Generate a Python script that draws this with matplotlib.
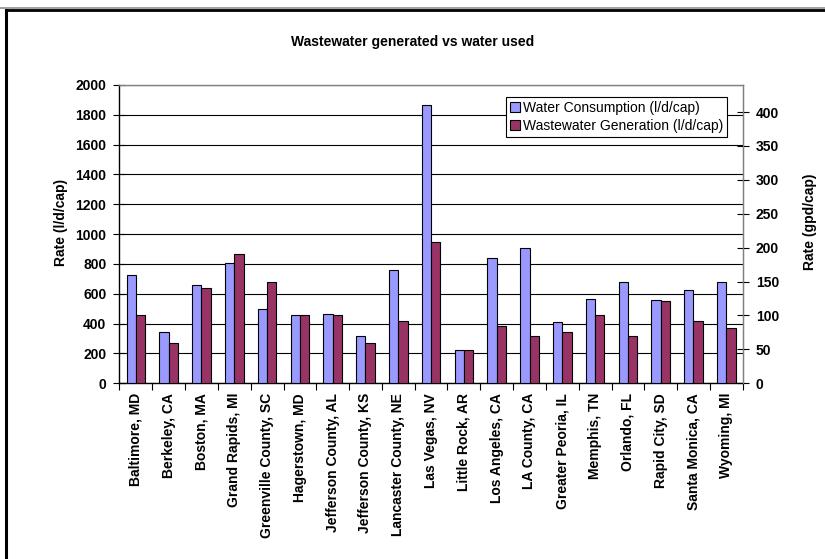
import matplotlib
matplotlib.use("Agg")
import matplotlib.pyplot as plt
import numpy as np
from matplotlib.lines import Line2D

plt.rcParams["font.family"] = ["Liberation Sans", "DejaVu Sans"]

cities = ["Baltimore, MD", "Berkeley, CA", "Boston, MA", "Grand Rapids, MI",
          "Greenville County, SC", "Hagerstown, MD", "Jefferson County, AL",
          "Jefferson County, KS", "Lancaster County, NE", "Las Vegas, NV",
          "Little Rock, AR", "Los Angeles, CA", "LA County, CA",
          "Greater Peoria, IL", "Memphis, TN", "Orlando, FL",
          "Rapid City, SD", "Santa Monica, CA", "Wyoming, MI"]
# litres per day per capita
water = [726, 342, 657, 809, 500, 455, 463, 315, 758, 1866,
         223, 840, 909, 409, 567, 681, 556, 624, 681]
waste = [455, 273, 637, 867, 681, 455, 455, 273, 416, 949,
         223, 384, 317, 342, 455, 317, 552, 418, 373]
L_PER_GAL = 4.546  # imperial gallon

BLUE, MAROON = "#9999FF", "#993366"
W, H = 825, 559

fig = plt.figure(figsize=(W / 100, H / 100), dpi=100)
fig.patch.set_facecolor("white")

ax = fig.add_axes([119.5 / W, 1 - 383.3 / H, (742.7 - 119.5) / W, (383.3 - 85) / H])
x = np.arange(len(cities))
bw = 1 / 3.5
b1 = ax.bar(x - bw / 2, water, bw, color=BLUE, edgecolor="black", lw=0.8,
            label="Water Consumption (l/d/cap)", zorder=3)
b2 = ax.bar(x + bw / 2, waste, bw, color=MAROON, edgecolor="black", lw=0.8,
            label="Wastewater Generation (l/d/cap)", zorder=3)

ax.set_xlim(-0.5, len(cities) - 0.5)
ax.set_ylim(0, 2000)
ax.set_yticks(np.arange(0, 2001, 200))
ax.yaxis.grid(True, color="black", lw=0.8)
ax.set_axisbelow(True)

ax.set_xticks(x)
ax.set_xticklabels(cities, rotation=90, fontweight="bold", fontsize=10)
ax.set_xticks(np.arange(-0.5, len(cities), 1), minor=True)
ax.tick_params(axis="x", which="major", length=0, pad=7)
ax.tick_params(axis="x", which="minor", length=5, direction="out", width=0.8)
ax.tick_params(axis="y", direction="inout", length=9, width=0.8, pad=5,
               labelsize=10)
for lab in ax.get_yticklabels():
    lab.set_fontweight("bold")

for s in ("left", "bottom"):
    ax.spines[s].set_color("black")
    ax.spines[s].set_linewidth(1)
for s in ("top", "right"):
    ax.spines[s].set_color("#808080")
    ax.spines[s].set_linewidth(1)

ax2 = ax.twinx()
ax2.set_ylim(0, 2000 / L_PER_GAL)
ax2.set_yticks(np.arange(0, 401, 50))
ax2.tick_params(axis="y", direction="inout", length=9, width=0.8, pad=5,
                labelsize=10)
for lab in ax2.get_yticklabels():
    lab.set_fontweight("bold")
ax2.spines["right"].set_color("#808080")
ax2.spines["top"].set_visible(False)
ax2.spines["left"].set_visible(False)
ax2.spines["bottom"].set_visible(False)

leg = ax2.legend(handles=[b1, b2], loc="upper right",
                 bbox_to_anchor=(0.975, 0.961), borderaxespad=0,
                 fontsize=10, frameon=True, fancybox=False, framealpha=1,
                 edgecolor="black", handlelength=0.7, handleheight=0.7,
                 handletextpad=0.2, borderpad=0.3, labelspacing=0.3)
leg.get_frame().set_linewidth(0.8)

fig.text(413 / W, 1 - 42 / H, "Wastewater generated vs water used",
         ha="center", va="center", fontsize=10, fontweight="bold")
fig.text(61.5 / W, 1 - 222 / H, "Rate (l/d/cap)", rotation=90,
         ha="center", va="center", fontsize=10, fontweight="bold")
fig.text(810 / W, 1 - 222 / H, "Rate (gpd/cap)", rotation=90,
         ha="center", va="center", fontsize=10, fontweight="bold")

# chart frame (left and top edges)
fig.add_artist(Line2D([0, 1], [1 - 7.5 / H] * 2, transform=fig.transFigure,
                      color="#909090", lw=1.2))
fig.add_artist(Line2D([5.5 / W, 1], [1 - 9.5 / H] * 2,
                      transform=fig.transFigure, color="black", lw=2))
fig.add_artist(Line2D([5.5 / W] * 2, [0, 1 - 9.5 / H],
                      transform=fig.transFigure, color="black", lw=2.2))

fig.savefig("out.png", dpi=100, facecolor="white")
